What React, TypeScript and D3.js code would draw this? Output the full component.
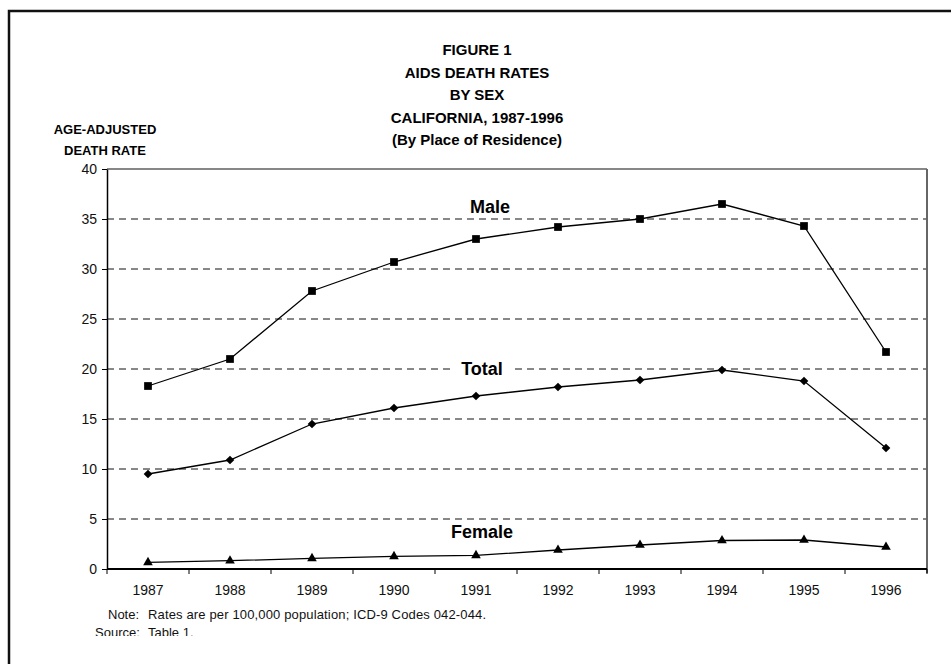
import { useEffect, useRef } from 'react';
import * as d3 from 'd3';

const years = ['1987', '1988', '1989', '1990', '1991', '1992', '1993', '1994', '1995', '1996'];
const maleRates = [18.3, 21.0, 27.8, 30.7, 33.0, 34.2, 35.0, 36.5, 34.3, 21.7];
const totalRates = [9.5, 10.9, 14.5, 16.1, 17.3, 18.2, 18.9, 19.9, 18.8, 12.1];
const femaleRates = [0.66, 0.83, 1.06, 1.26, 1.36, 1.9, 2.4, 2.85, 2.9, 2.2];
const yTicks = [0, 5, 10, 15, 20, 25, 30, 35, 40];
const titleLines = ['FIGURE 1', 'AIDS DEATH RATES', 'BY SEX', 'CALIFORNIA, 1987-1996', '(By Place of Residence)'];

const FONT = '"Liberation Sans", Arial, sans-serif';

const App = () => {
  const svgRef = useRef<SVGSVGElement | null>(null);

  useEffect(() => {
    const svg = d3.select(svgRef.current);
    svg.selectAll('*').remove();

    const W = 951;
    const H = 664;
    const left = 107, right = 927, top = 169, bottom = 569;

    svg.attr('width', W).attr('height', H).style('font-family', FONT);

    // outer frame (only top and left edges are visible)
    svg.append('path')
      .attr('d', `M9,${H + 5} V11 H${W + 5}`)
      .attr('fill', 'none')
      .attr('stroke', '#111')
      .attr('stroke-width', 2.5);

    // title
    const title = svg.append('text')
      .attr('text-anchor', 'middle')
      .style('font-weight', 'bold')
      .style('font-size', '15px');
    titleLines.forEach((t, i) => {
      title.append('tspan').attr('x', 477).attr('y', 55 + i * 22.5).text(t);
    });

    // y axis title
    const yt = svg.append('text')
      .attr('text-anchor', 'middle')
      .style('font-weight', 'bold')
      .style('font-size', '13px');
    yt.append('tspan').attr('x', 105).attr('y', 134).text('AGE-ADJUSTED');
    yt.append('tspan').attr('x', 105).attr('y', 155).text('DEATH RATE');

    const x = d3.scaleBand().domain(years).range([left, right]);
    const y = d3.scaleLinear().domain([0, 40]).range([bottom, top]);
    const cx = (d: string) => (x(d) as number) + x.bandwidth() / 2;

    // gridlines
    svg.append('g')
      .selectAll('line')
      .data(yTicks.filter(v => v > 0 && v < 40))
      .enter()
      .append('line')
      .attr('x1', left)
      .attr('x2', right)
      .attr('y1', d => y(d))
      .attr('y2', d => y(d))
      .attr('stroke', '#111')
      .attr('stroke-width', 1)
      .attr('stroke-dasharray', '7,5');

    // top and right frame of plot
    svg.append('line')
      .attr('x1', left).attr('x2', right)
      .attr('y1', y(40)).attr('y2', y(40))
      .attr('stroke', '#111').attr('stroke-width', 1.2);
    svg.append('line')
      .attr('x1', right).attr('x2', right)
      .attr('y1', y(40)).attr('y2', bottom + 4)
      .attr('stroke', '#666').attr('stroke-width', 2);

    // y axis
    const yAxis = svg.append('g')
      .attr('transform', `translate(${left},0)`)
      .call(d3.axisLeft(y).tickValues(yTicks).tickSize(5).tickSizeOuter(0).tickPadding(5));
    yAxis.select('.domain').attr('stroke', '#000').attr('stroke-width', 1.5);
    yAxis.selectAll('.tick line').attr('stroke', '#000');
    yAxis.selectAll('.tick text')
      .style('font-size', '14px')
      .style('font-family', FONT)
      .attr('fill', '#111');

    // x axis: ticks sit on the band edges
    const xAxis = svg.append('g')
      .attr('transform', `translate(0,${bottom})`)
      .call(d3.axisBottom(x).tickSize(0).tickPadding(16));
    xAxis.select('.domain').remove();
    xAxis.selectAll('.tick text')
      .style('font-size', '14px')
      .style('font-family', FONT)
      .attr('fill', '#111');
    svg.append('line')
      .attr('x1', left).attr('x2', right)
      .attr('y1', bottom).attr('y2', bottom)
      .attr('stroke', '#000').attr('stroke-width', 1.8);
    svg.append('g')
      .selectAll('line')
      .data(years.concat(['end']))
      .enter()
      .append('line')
      .attr('x1', (d, i) => left + i * x.bandwidth())
      .attr('x2', (d, i) => left + i * x.bandwidth())
      .attr('y1', bottom)
      .attr('y2', bottom + 5)
      .attr('stroke', '#000');

    const line = d3.line<number>()
      .x((d, i) => cx(years[i]))
      .y(d => y(d));

    const series = [
      { values: maleRates, symbol: d3.symbolSquare, size: 60 },
      { values: totalRates, symbol: d3.symbolDiamond2, size: 48 },
      { values: femaleRates, symbol: d3.symbolTriangle, size: 40 }
    ];

    series.forEach(s => {
      svg.append('path')
        .datum(s.values)
        .attr('d', line)
        .attr('fill', 'none')
        .attr('stroke', '#000')
        .attr('stroke-width', 1.3);
      svg.append('g')
        .selectAll('path')
        .data(s.values)
        .enter()
        .append('path')
        .attr('transform', (d, i) => `translate(${cx(years[i])},${y(d)})`)
        .attr('d', d3.symbol().type(s.symbol).size(s.size)())
        .attr('fill', '#000');
    });

    // series labels
    const labels = [
      { text: 'Male', x: 490, y: 207, bg: false },
      { text: 'Total', x: 482, y: 369, bg: true },
      { text: 'Female', x: 482, y: 532, bg: false }
    ];
    labels.forEach(l => {
      if (l.bg) {
        svg.append('rect')
          .attr('x', l.x - 27)
          .attr('y', l.y - 10)
          .attr('width', 56)
          .attr('height', 20)
          .attr('fill', '#fff');
      }
      svg.append('text')
        .attr('x', l.x)
        .attr('y', l.y)
        .attr('dy', '0.35em')
        .attr('text-anchor', 'middle')
        .style('font-weight', 'bold')
        .style('font-size', '18px')
        .text(l.text);
    });

    // notes (source line is cut off at the bottom of the figure area)
    svg.append('clipPath')
      .attr('id', 'note-clip')
      .append('rect')
      .attr('x', 0).attr('y', 0).attr('width', W).attr('height', 636);
    const notes = svg.append('g')
      .attr('clip-path', 'url(#note-clip)')
      .style('font-size', '13px')
      .attr('fill', '#111');
    notes.append('text').attr('x', 108).attr('y', 619).text('Note:');
    notes.append('text').attr('x', 148).attr('y', 619)
      .attr('textLength', 338).attr('lengthAdjust', 'spacing')
      .text('Rates are per 100,000 population; ICD-9 Codes 042-044.');
    notes.append('text').attr('x', 95).attr('y', 637).text('Source:');
    notes.append('text').attr('x', 148).attr('y', 637).text('Table 1.');
  }, []);

  return (
    <div style={{ position: 'absolute', left: 0, top: 0, background: '#fff' }}>
      <svg ref={svgRef}></svg>
    </div>
  );
};

export default App;
